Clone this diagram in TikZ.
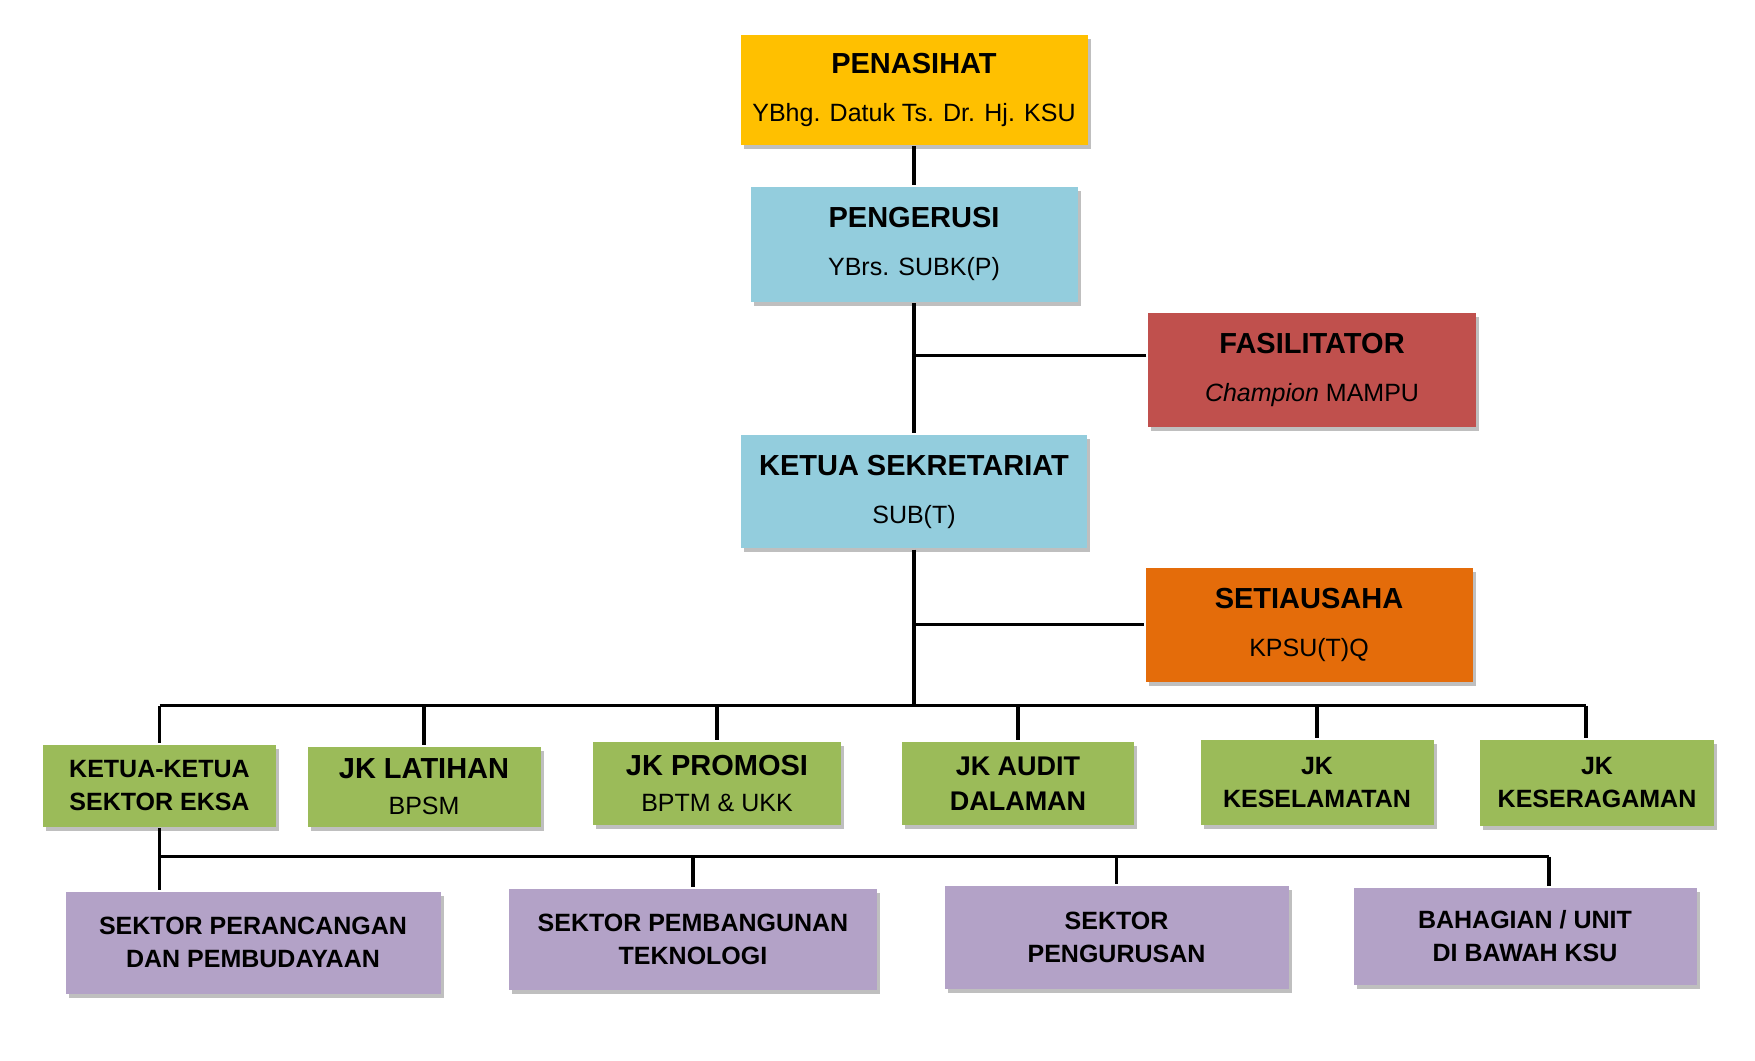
\documentclass[tikz,border=0pt]{standalone}
\usepackage{fontspec}
\setmainfont{Liberation Sans}
\usetikzlibrary{positioning,shadows,calc}
\definecolor{gold}{HTML}{FFC000}
\definecolor{skyblue}{HTML}{93CDDD}
\definecolor{brickred}{HTML}{C0504D}
\definecolor{darkorange}{HTML}{E46C0A}
\definecolor{olivegreen}{HTML}{9BBB59}
\definecolor{lilac}{HTML}{B3A2C7}
\newcommand{\boxtitle}[1]{{\fontsize{14.5}{17}\selectfont\bfseries #1}}

\begin{document}
\begin{tikzpicture}[x=0.5pt,y=-0.5pt,line width=1.6pt,
    orgbox/.style 2 args={minimum width=#1,minimum height=#2,inner sep=0pt,align=center,
      drop shadow={shadow xshift=1.5pt,shadow yshift=-2pt,opacity=0.25,fill=black}},
    topfont/.style={font=\fontsize{12.5}{24}\selectfont},
    jkfont/.style={font=\fontsize{12.5}{16.5}\selectfont\bfseries},
  ]
  \useasboundingbox (0,0) rectangle (1755,1060);

  \node[orgbox={173.5pt}{55pt},fill=gold,topfont] (pen) at (914,89.5)
    {\boxtitle{PENASIHAT}\\YBhg. Datuk Ts. Dr. Hj. KSU};
  \node[orgbox={163.5pt}{57.5pt},fill=skyblue,topfont] (pg) at (914,244)
    {\boxtitle{PENGERUSI}\\YBrs. SUBK(P)};
  \node[orgbox={164pt}{57pt},fill=brickred,topfont] (fas) at (1312,369.5)
    {\boxtitle{FASILITATOR}\\\textit{Champion} MAMPU};
  \node[orgbox={173pt}{56.5pt},fill=skyblue,topfont] (ks) at (914,491.5)
    {\boxtitle{KETUA SEKRETARIAT}\\SUB(T)};
  \node[orgbox={163.5pt}{57pt},fill=darkorange,topfont] (sa) at (1309,624.5)
    {\boxtitle{SETIAUSAHA}\\KPSU(T)Q};

  \node[orgbox={116.5pt}{41pt},fill=olivegreen,jkfont] (k1) at (159.5,785.5)
    {KETUA-KETUA\\SEKTOR EKSA};
  \node[orgbox={116.5pt}{40pt},fill=olivegreen,font=\fontsize{12.5}{18}\selectfont] (k2) at (424,786.5)
    {\boxtitle{JK LATIHAN}\\BPSM};
  \node[orgbox={124pt}{41.5pt},fill=olivegreen,font=\fontsize{12.5}{18}\selectfont] (k3) at (717,783.5)
    {\boxtitle{JK PROMOSI}\\BPTM \& UKK};
  \node[orgbox={116pt}{41.5pt},fill=olivegreen,font=\fontsize{13.5}{17.5}\selectfont\bfseries] (k4) at (1018,783.5)
    {JK AUDIT\\DALAMAN};
  \node[orgbox={116.5pt}{42.5pt},fill=olivegreen,jkfont] (k5) at (1317,782.5)
    {JK\\KESELAMATAN};
  \node[orgbox={117pt}{43pt},fill=olivegreen,jkfont] (k6) at (1597,782.5)
    {JK\\KESERAGAMAN};

  \node[orgbox={187.5pt}{51pt},fill=lilac,jkfont] (p1) at (253,942.5)
    {SEKTOR PERANCANGAN\\DAN PEMBUDAYAAN};
  \node[orgbox={184pt}{50.5pt},fill=lilac,jkfont] (p2) at (693,939)
    {SEKTOR PEMBANGUNAN\\TEKNOLOGI};
  \node[orgbox={172pt}{51.5pt},fill=lilac,jkfont] (p3) at (1116.5,937)
    {SEKTOR\\PENGURUSAN};
  \node[orgbox={171.5pt}{48.5pt},fill=lilac,jkfont] (p4) at (1525,936)
    {BAHAGIAN / UNIT\\DI BAWAH KSU};

  \coordinate (bus1) at (914,705.5);
  \coordinate (bus2) at (159.5,856.5);
  \coordinate (fasin) at ([yshift=7pt]fas.west);
  \coordinate (k6in) at ([xshift=-5.5pt]k6.north);
  \coordinate (p4in) at ([xshift=12pt]p4.north);

  \draw (pen) -- (pg);
  \draw (pg) -- (ks);
  \draw (fasin) -- (fasin -| pg);
  \draw (sa) -- (sa -| ks);
  \draw (ks) -- (bus1);
  \draw (k1 |- bus1) -- (k6in |- bus1);
  \foreach \k in {k1,k2,k3,k4,k5}
    \draw (\k |- bus1) -- (\k);
  \draw (k6in |- bus1) -- (k6in);
  \draw (k1) -- (p1.north -| k1);
  \draw (bus2) -- (p4in |- bus2);
  \foreach \p in {p2,p3}
    \draw (\p |- bus2) -- (\p);
  \draw (p4in |- bus2) -- (p4in);
\end{tikzpicture}
\end{document}
